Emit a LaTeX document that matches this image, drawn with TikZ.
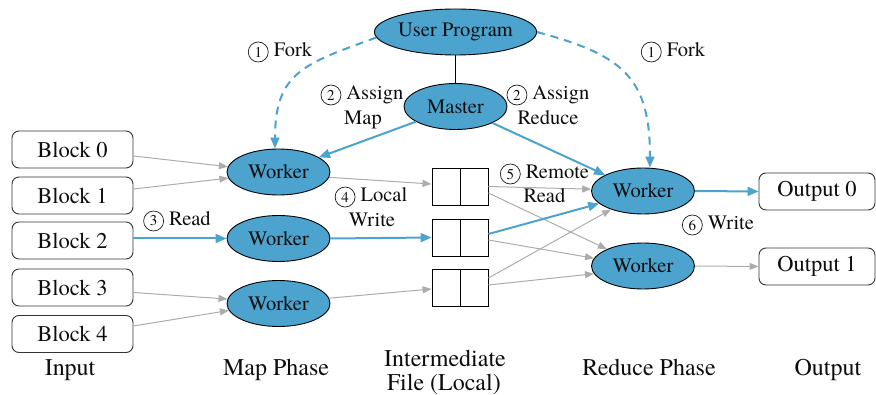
\documentclass[tikz,border=0pt]{standalone}
\usepackage{fontspec}
\setmainfont{TeX Gyre Termes}
\newfontfamily\serifface{TeX Gyre Termes}
\usetikzlibrary{shapes.geometric,arrows.meta}
\definecolor{mrblue}{RGB}{75,163,206}
\definecolor{mrgray}{RGB}{172,172,172}
% circled step number drawn as a thin ring around a serif digit
\newcommand{\cnum}[1]{\tikz[baseline={([yshift=-5pt]d.center)}]\node[circle, draw=black!90,
  line width=0.7pt, inner sep=0pt, minimum size=20pt,
  font=\serifface\fontsize{15}{15}\selectfont] (d) {#1};}

\begin{document}
\begin{tikzpicture}[x=1pt,y=-1pt,
  every node/.style={font=\serifface\fontsize{20.5}{25}\selectfont, text=black!95},
  block/.style={draw=black!80, line width=0.9pt, rounded corners=7pt,
    minimum width=121pt, minimum height=37pt, inner sep=0pt,
    font=\serifface\fontsize{22.5}{25}\selectfont},
  outbox/.style={block, minimum width=116pt},
  worker/.style={ellipse, draw=black, line width=0.9pt, fill=mrblue,
    minimum width=103pt, minimum height=46pt, inner sep=0pt},
  filebox/.style={draw=black, line width=0.9pt, minimum width=56pt,
    minimum height=37pt, inner sep=0pt},
  flow/.style={draw=mrgray, line width=1pt, -{Triangle[length=9pt,width=7pt]}},
  hot/.style={draw=mrblue, line width=2pt, -{Triangle[length=11pt,width=9pt]}},
  fork/.style={draw=mrblue, line width=2pt, dash pattern=on 8pt off 6pt,
    -{Triangle[length=11pt,width=9pt]}},
  lbl/.style={anchor=base, inner sep=0pt},
  caption/.style={lbl, font=\serifface\fontsize{24}{28}\selectfont},
]
\useasboundingbox (0,0) rectangle (876,395);

% control nodes
\node[worker, minimum width=159pt] (user) at (455.5,32) {User Program};
\node[worker] (master) at (455.5,106.5) {Master};

% input blocks
\node[block] (b0) at (72.5,149.5) {Block 0};
\node[block] (b1) at (72.5,195.5) {Block 1};
\node[block] (b2) at (72.5,240.5) {Block 2};
\node[block] (b3) at (72.5,287.5) {Block 3};
\node[block] (b4) at (72.5,334) {Block 4};

% map workers
\node[worker] (w1) at (278.5,172) {Worker};
\node[worker] (w2) at (278.5,238.5) {Worker};
\node[worker] (w3) at (278.5,303.5) {Worker};

% intermediate files, two partitions each
\node[filebox] (f1) at (460,186.5) {};
\node[filebox] (f2) at (460,237.5) {};
\node[filebox] (f3) at (460,287.5) {};
\foreach \f in {f1,f2,f3} \draw[line width=0.9pt] (\f.north) -- (\f.south);

% reduce workers
\node[worker] (r1) at (643,191) {Worker};
\node[worker] (r2) at (643,266) {Worker};

% outputs
\node[outbox] (o0) at (817,191.5) {Output 0};
\node[outbox] (o1) at (817,266.5) {Output 1};

% program to master
\draw[black, line width=0.8pt] (user) -- (master);

% fork
\draw[fork] (user.184) to[out=200,in=90,looseness=1.3] ([xshift=-3.5pt]w1.north);
\draw[fork] (user.east) to[out=-15,in=90,looseness=1.3] ([xshift=7pt]r1.north);

% assign
\draw[hot] (master.201) -- (w1.20);
\draw[hot] (master.336) -- (r1.157);

% read
\draw[flow] ([yshift=-6.5pt]b0.east) -- (w1.174);
\draw[flow] ([yshift=6.5pt]b1.east) -- (w1.187);
\draw[hot] (b2.east |- w2) -- (w2.west);
\draw[flow] ([yshift=-5pt]b3.east) -- (w3.175);
\draw[flow] ([yshift=8pt]b4.east) -- (w3.188);

% local write
\draw[flow] (w1.354) -- ([yshift=2.5pt]f1.west);
\draw[hot] (w2.east) -- (f2.west);
\draw[flow] (w3.6) -- ([yshift=-1.5pt]f3.west);

% remote read
\draw[flow] (f1.east) -- (r1.178);
\draw[flow] ([yshift=-6.5pt]f1.east) -- (r2.155);
\draw[hot] ([yshift=3.5pt]f2.east) -- (r1.196);
\draw[flow] ([yshift=-2.5pt]f2.east) -- (r2.171);
\draw[flow] ([yshift=9.5pt]f3.east) -- (r1.210);
\draw[flow] ([yshift=2.5pt]f3.east) -- (r2.189);

% write
\draw[hot] (r1.east) -- (o0.west);
\draw[flow] (r2.east) -- (o1.west);

% step labels
\node[lbl] (forkL) at (280,57) {\cnum{1} Fork};
\node[lbl] (forkR) at (673,57) {\cnum{1} Fork};
\node[lbl] (assignMa) at (362,100) {\cnum{2} Assign};
\node[lbl] (assignMb) at (363,125) {Map};
\node[lbl] (assignRa) at (548,100) {\cnum{2} Assign};
\node[lbl] (assignRb) at (548,125) {Reduce};
\node[lbl] (readlbl) at (177,226) {\cnum{3} Read};
\node[lbl] (locala) at (371,202) {\cnum{4} Local};
\node[lbl] (localb) at (372,227) {Write};
\node[lbl] (remotea) at (544.5,179) {\cnum{5} Remote};
\node[lbl] (remoteb) at (544.5,203) {Read};
\node[lbl] (writelbl) at (718,230) {\cnum{6} Write};

% phase captions
\node[caption] (capIn) at (70,376) {Input};
\node[caption] (capMap) at (276,376) {Map Phase};
\node[caption] (capMida) at (445,367) {Intermediate};
\node[caption] (capMidb) at (444,391) {File (Local)};
\node[caption] (capRed) at (649,376) {Reduce Phase};
\node[caption] (capOut) at (828,376) {Output};
\end{tikzpicture}
\end{document}
